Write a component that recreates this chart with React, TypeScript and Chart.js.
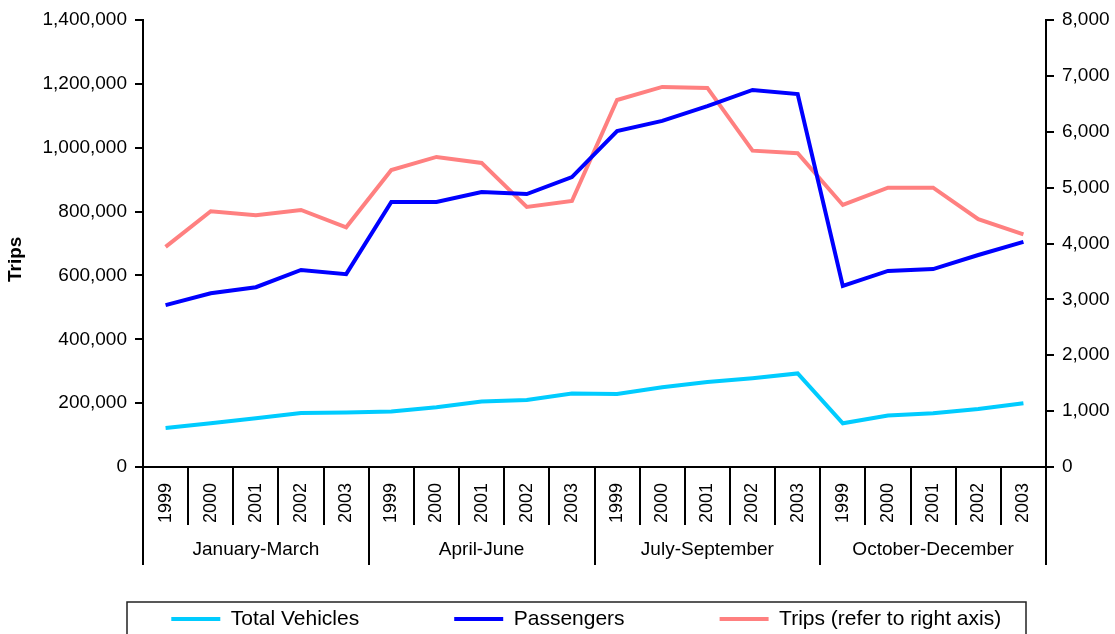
import React, { useEffect, useRef } from 'react';
import { Chart, registerables } from 'chart.js';

Chart.register(...registerables);

const yearLabels = [
  '1999', '2000', '2001', '2002', '2003',
  '1999', '2000', '2001', '2002', '2003',
  '1999', '2000', '2001', '2002', '2003',
  '1999', '2000', '2001', '2002', '2003',
];
const quarterLabels = ['January-March', 'April-June', 'July-September', 'October-December'];

const totalVehicles = [
  122000, 137000, 153000, 169000, 171000,
  174000, 187000, 205000, 210000, 230000,
  229000, 250000, 266000, 278000, 293000,
  137000, 161000, 168000, 182000, 200000,
];
const passengers = [
  507000, 544000, 563000, 617000, 604000,
  830000, 830000, 861000, 855000, 908000,
  1052000, 1084000, 1130000, 1181000, 1168000,
  567000, 614000, 620000, 664000, 705000,
];
const trips = [
  3940, 4577, 4505, 4600, 4290,
  5316, 5549, 5442, 4654, 4761,
  6569, 6802, 6784, 5662, 5615,
  4690, 5000, 5000, 4434, 4165,
];

const leftTicksMax = 1400000;
const rightTicksMax = 8000;

const FONT = '"Liberation Sans", Arial, Helvetica, sans-serif';
const LEGEND_PAD = 95;
const LEGEND_FONT = 21;

// Moves the bottom legend box to where the reference places it, and frames it.
const legendPlacement = {
  id: 'legendPlacement',
  afterLayout(chart: any) {
    const lg = chart.legend;
    if (!lg) return;
    const h = lg.bottom - lg.top;
    const ca = chart.chartArea;
    lg.top = ca.bottom + 46.5;
    lg.bottom = lg.top + h;
    lg.left += 28.75;
    lg.right += 28.75;
  },
  afterDraw(chart: any) {
    const lg = chart.legend;
    if (!lg) return;
    const ca = chart.chartArea;
    const left = ca.left - 16;
    const right = ca.right - 20;
    const top = lg.top + LEGEND_PAD + LEGEND_FONT / 2 - 17;
    const ctx = chart.ctx;
    ctx.save();
    ctx.strokeStyle = '#222';
    ctx.lineWidth = 1.5;
    ctx.strokeRect(left, top, right - left, chart.height - top + 10);
    ctx.restore();
  },
};

export default function App() {
  const ref = useRef<HTMLCanvasElement>(null);

  useEffect(() => {
    Chart.defaults.font.family = FONT;
    Chart.defaults.color = '#000';
    const chart = new Chart(ref.current as HTMLCanvasElement, {
      type: 'line',
      data: {
        labels: yearLabels,
        datasets: [
          {
            label: 'Total Vehicles',
            data: totalVehicles,
            borderColor: '#00CCFF',
            backgroundColor: '#00CCFF',
            borderWidth: 4,
            pointRadius: 0,
            tension: 0,
            yAxisID: 'y',
            xAxisID: 'x',
          },
          {
            label: 'Passengers',
            data: passengers,
            borderColor: '#0000FF',
            backgroundColor: '#0000FF',
            borderWidth: 4,
            pointRadius: 0,
            tension: 0,
            yAxisID: 'y',
            xAxisID: 'x',
          },
          {
            label: 'Trips (refer to right axis)',
            data: trips,
            borderColor: '#FF8080',
            backgroundColor: '#FF8080',
            borderWidth: 4,
            pointRadius: 0,
            tension: 0,
            yAxisID: 'y1',
            xAxisID: 'x',
          },
        ],
      },
      options: {
        responsive: false,
        animation: false,
        devicePixelRatio: 1,
        layout: { padding: { top: 20, left: 0, right: 0, bottom: -57 } },
        plugins: {
          tooltip: { enabled: false },
          legend: {
            position: 'bottom',
            fullSize: true,
            labels: {
              boxWidth: 49,
              boxHeight: 4,
              padding: LEGEND_PAD,
              color: '#000',
              font: { size: LEGEND_FONT, family: FONT },
              generateLabels: (c: any) =>
                c.data.datasets.map((ds: any, i: number) => ({
                  text: ds.label,
                  fillStyle: ds.borderColor,
                  strokeStyle: ds.borderColor,
                  lineWidth: 0,
                  hidden: false,
                  datasetIndex: i,
                  fontColor: '#000',
                })),
            },
          },
        },
        scales: {
          x: {
            type: 'category',
            position: 'bottom',
            weight: 0,
            offset: true,
            grid: {
              offset: true,
              drawOnChartArea: false,
              drawTicks: true,
              tickLength: 58,
              color: '#000',
              lineWidth: 2,
            },
            border: { display: true, color: '#000', width: 2 },
            ticks: {
              autoSkip: false,
              minRotation: 90,
              maxRotation: 90,
              padding: -42,
              color: '#000',
              font: { size: 18, family: FONT },
            },
            afterFit: (s: any) => {
              s.height = 58;
            },
          },
          xg: {
            type: 'category',
            labels: quarterLabels,
            position: 'bottom',
            weight: 1,
            offset: true,
            grid: {
              offset: true,
              drawOnChartArea: false,
              drawTicks: true,
              tickLength: 40,
              color: '#000',
              lineWidth: 2,
            },
            border: { display: false },
            ticks: {
              autoSkip: false,
              maxRotation: 0,
              minRotation: 0,
              padding: -26.4,
              color: '#000',
              font: { size: 19, family: FONT },
            },
            afterFit: (s: any) => {
              s.height = 40;
            },
          },
          y: {
            type: 'linear',
            position: 'left',
            min: 0,
            max: leftTicksMax,
            grid: {
              drawOnChartArea: false,
              drawTicks: true,
              tickLength: 8,
              color: '#000',
              lineWidth: 2,
            },
            border: { display: true, color: '#000', width: 2 },
            ticks: {
              stepSize: 200000,
              padding: 8,
              color: '#000',
              font: { size: 19, family: FONT },
              callback: (v: any) => Number(v).toLocaleString('en-US'),
            },
            title: {
              display: true,
              text: 'Trips      ',
              color: '#000',
              font: { size: 19, weight: 'bold', family: FONT },
              padding: { top: 4, bottom: 4 },
            },
            afterFit: (s: any) => {
              s.width = 143;
            },
          },
          y1: {
            type: 'linear',
            position: 'right',
            min: 0,
            max: rightTicksMax,
            grid: {
              drawOnChartArea: false,
              drawTicks: true,
              tickLength: 8,
              color: '#000',
              lineWidth: 2,
            },
            border: { display: true, color: '#000', width: 2 },
            ticks: {
              stepSize: 1000,
              padding: 8,
              color: '#000',
              font: { size: 19, family: FONT },
              callback: (v: any) => Number(v).toLocaleString('en-US'),
            },
            afterFit: (s: any) => {
              s.width = 69;
            },
          },
        },
      } as any,
      plugins: [legendPlacement],
    });
    return () => chart.destroy();
  }, []);

  return (
    <div style={{ position: 'absolute', left: 0, top: 0, width: 1115, height: 634 }}>
      <canvas ref={ref} width={1115} height={634} style={{ display: 'block' }} />
    </div>
  );
}
